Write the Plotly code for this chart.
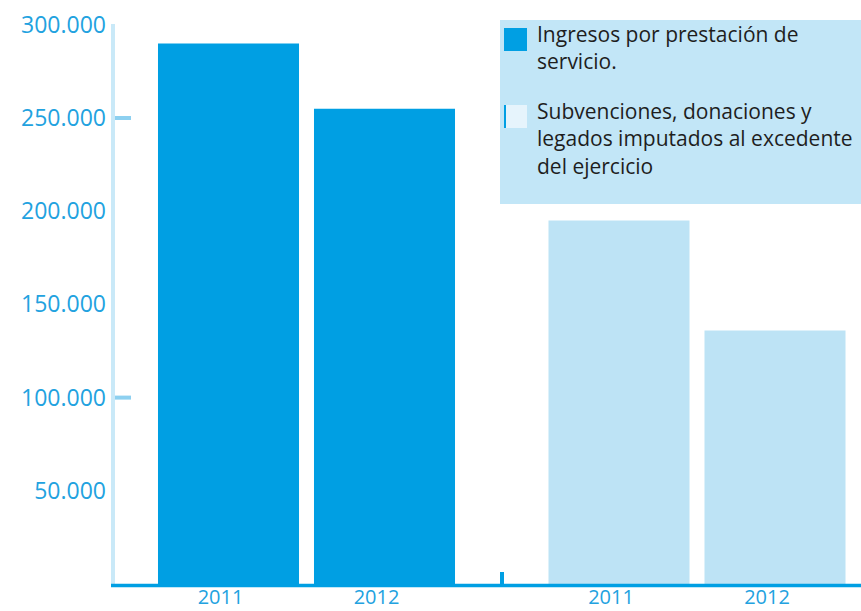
import plotly.graph_objects as go

# data (euros)
years = ["2011", "2012"]
ingresos = [290000, 255000]
subvenciones = [195000, 136000]
y_ticks = [50000, 100000, 150000, 200000, 250000, 300000]
marked_ticks = [100000, 250000]
legend_1 = "Ingresos por prestación de<br>servicio."
legend_2 = "Subvenciones, donaciones y<br>legados imputados al excedente<br>del ejercicio"

DARK = "#009FE3"
LIGHT = "#BDE3F5"
W, H = 861, 611
L, T, B = 111, 20, 27
PW, PH = W - L, H - T - B


def px(x):
    return (x - L) / PW


def py(y):
    return (H - B - y) / PH


fig = go.Figure()
fig.add_trace(go.Bar(x=years, y=ingresos, marker=dict(color=DARK, line_width=0),
                     xaxis="x", yaxis="y", showlegend=False))
fig.add_trace(go.Bar(x=years, y=subvenciones, marker=dict(color=LIGHT, line_width=0),
                     xaxis="x2", yaxis="y", showlegend=False))

tickfont = dict(family="Open Sans", size=23, color="#22A2DF")
xcommon = dict(type="category", showline=False, showgrid=False, zeroline=False, ticks="",
               tickfont=dict(tickfont, size=20), ticklabelshift=-8, ticklabelstandoff=-1,
               range=[-0.5, 1.5], anchor="y", fixedrange=True, automargin=False)

fig.update_layout(
    width=W, height=H,
    margin=dict(l=L, r=0, t=T, b=B),
    paper_bgcolor="white", plot_bgcolor="white",
    separators=",.",
    bargap=0.096,
    xaxis=dict(domain=[px(150.5), px(462.5)], **xcommon),
    xaxis2=dict(domain=[px(541), px(853)], **xcommon),
    yaxis=dict(range=[0, PH / 93.2 * 50000], tickvals=y_ticks, tickformat=",d",
               showgrid=False, zeroline=False, showline=False, ticks="", automargin=False,
               tickfont=tickfont, ticklabelstandoff=5, anchor="free", position=0),
)

shapes = [
    # y axis line
    dict(type="rect", xref="paper", yref="paper", x0=px(111), x1=px(115), y0=py(587), y1=py(24),
         fillcolor="#C9E9F8", line_width=0),
    # x axis line
    dict(type="line", xref="paper", yref="paper", x0=0, x1=1, y0=py(585.5), y1=py(585.5),
         line=dict(color=DARK, width=3.5)),
    # small separator tick
    dict(type="line", xref="paper", yref="paper", x0=px(502), x1=px(502), y0=py(584), y1=py(572),
         line=dict(color=DARK, width=4)),
    # legend box
    dict(type="rect", xref="paper", yref="paper", x0=px(500), x1=1, y0=py(204), y1=py(20),
         fillcolor="#C2E6F7", line_width=0),
    dict(type="rect", xref="paper", yref="paper", x0=px(504), x1=px(527), y0=py(51), y1=py(28),
         fillcolor=DARK, line_width=0),
    dict(type="rect", xref="paper", yref="paper", x0=px(504), x1=px(527), y0=py(128), y1=py(105),
         fillcolor="#E6F4FC", line_width=0),
    dict(type="rect", xref="paper", yref="paper", x0=px(504), x1=px(506), y0=py(128), y1=py(105),
         fillcolor=DARK, line_width=0),
]
for v in marked_ticks:
    shapes.append(dict(type="line", xref="paper", yref="y", x0=px(115), x1=px(131), y0=v, y1=v,
                       line=dict(color="#8DD0F0", width=4)))
fig.update_layout(shapes=shapes)

legfont = dict(family="Open Sans", size=21, color="#1E1E1E")
fig.add_annotation(text=legend_1, xref="paper", yref="paper", x=px(535), y=py(18),
                   xanchor="left", yanchor="top", align="left", showarrow=False, font=legfont)
fig.add_annotation(text=legend_2, xref="paper", yref="paper", x=px(535), y=py(95),
                   xanchor="left", yanchor="top", align="left", showarrow=False, font=legfont)

fig.write_html("out.html", config={"displayModeBar": False},
               post_script="document.body.style.margin = '0';")
